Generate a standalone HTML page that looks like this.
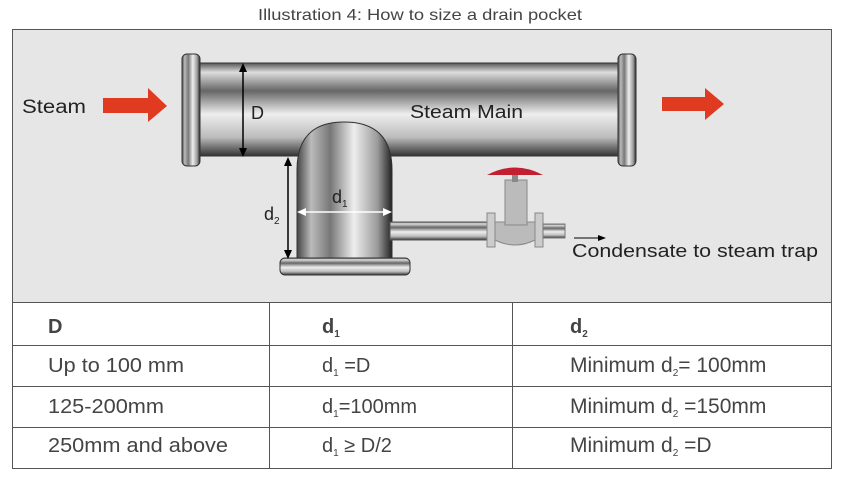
<!DOCTYPE html><html><head><style>body{margin:0;background:#fff;width:842px;height:477px;overflow:hidden;font-family:"Liberation Sans",sans-serif}</style></head><body>
<svg width="842" height="477" viewBox="0 0 842 477" xmlns="http://www.w3.org/2000/svg" font-family="Liberation Sans, sans-serif">
<defs>
<linearGradient id="h" x1="0" y1="0" x2="0" y2="1">
<stop offset="0" stop-color="#555"/><stop offset=".1" stop-color="#ddd"/><stop offset=".3" stop-color="#666"/><stop offset=".55" stop-color="#eee"/><stop offset=".8" stop-color="#bbb"/><stop offset="1" stop-color="#333"/></linearGradient>
<linearGradient id="v" x1="0" y1="0" x2="1" y2="0">
<stop offset="0" stop-color="#444"/><stop offset=".15" stop-color="#bbb"/><stop offset=".35" stop-color="#777"/><stop offset=".6" stop-color="#eee"/><stop offset=".85" stop-color="#999"/><stop offset="1" stop-color="#222"/></linearGradient>
</defs>
<text x="258" y="20" font-size="16" fill="#444" textLength="324" lengthAdjust="spacingAndGlyphs">Illustration 4: How to size a drain pocket</text>
<rect x="12.5" y="29.5" width="819" height="439" fill="#fff" stroke="#555"/>
<rect x="13" y="30" width="818" height="272" fill="#e6e6e6"/>
<line x1="12" y1="302.5" x2="831" y2="302.5" stroke="#555"/>
<line x1="12" y1="345.5" x2="831" y2="345.5" stroke="#555"/>
<line x1="12" y1="386.5" x2="831" y2="386.5" stroke="#555"/>
<line x1="12" y1="427.5" x2="831" y2="427.5" stroke="#555"/>
<line x1="269.5" y1="302" x2="269.5" y2="468" stroke="#555"/>
<line x1="512.5" y1="302" x2="512.5" y2="468" stroke="#555"/>
<g font-size="20" fill="#444">
<text x="48" y="333" font-weight="bold">D</text>
<text x="322" y="333" font-weight="bold">d<tspan font-size="10" dy="4">1</tspan></text>
<text x="570" y="333" font-weight="bold">d<tspan font-size="10" dy="4">2</tspan></text>
<text x="48" y="372" textLength="136" lengthAdjust="spacingAndGlyphs">Up to 100 mm</text>
<text x="322" y="372">d<tspan font-size="10" dy="4">1</tspan><tspan dy="-4"> =D</tspan></text>
<text x="48" y="413" textLength="116" lengthAdjust="spacingAndGlyphs">125-200mm</text>
<text x="322" y="413">d<tspan font-size="10" dy="4">1</tspan><tspan dy="-4">=100mm</tspan></text>
<text x="48" y="452" textLength="180" lengthAdjust="spacingAndGlyphs">250mm and above</text>
<text x="322" y="452">d<tspan font-size="10" dy="4">1</tspan><tspan dy="-4"> ≥ D/2</tspan></text>
</g>
<g font-size="21" fill="#444">
<text x="570" y="372">Minimum d<tspan font-size="10" dy="4">2</tspan><tspan dy="-4">= 100mm</tspan></text>
<text x="570" y="413">Minimum d<tspan font-size="10" dy="4">2</tspan><tspan dy="-4"> =150mm</tspan></text>
<text x="570" y="452">Minimum d<tspan font-size="10" dy="4">2</tspan><tspan dy="-4"> =D</tspan></text>
</g>
<polygon points="103,98 148,98 148,88 167,106 148,122 148,113 103,113" fill="#e03a20"/>
<polygon points="662,97 705,97 705,88 724,104 705,120 705,111 662,111" fill="#e03a20"/>
<text x="22" y="113" font-size="19" fill="#222" textLength="64" lengthAdjust="spacingAndGlyphs">Steam</text>
<rect x="195" y="63" width="428" height="93" fill="url(#h)" stroke="#333"/>
<rect x="182" y="54" width="18" height="112" rx="5" fill="url(#v)" stroke="#333"/>
<rect x="618" y="54" width="18" height="112" rx="5" fill="url(#v)" stroke="#333"/>
<path d="M297,262 L297,170 Q297,122 344,122 Q392,122 392,170 L392,262 Z" fill="url(#v)" stroke="#333"/>
<rect x="390" y="222" width="100" height="18" fill="url(#h)" stroke="#555"/>
<rect x="280" y="258" width="130" height="17" rx="5" fill="url(#h)" stroke="#333"/>
<rect x="487" y="213" width="8" height="34" fill="#ccc" stroke="#888"/>
<rect x="535" y="213" width="8" height="34" fill="#ccc" stroke="#888"/>
<path d="M495,222 L535,222 L535,240 Q515,250 495,240 Z" fill="#bbb" stroke="#888"/>
<rect x="505" y="180" width="22" height="45" fill="#bbb" stroke="#888"/>
<rect x="512" y="172" width="6" height="10" fill="#888"/>
<path d="M487,175 Q515,160 543,175 Z" fill="#c22030"/>
<rect x="543" y="224" width="22" height="14" fill="url(#h)" stroke="#777"/>
<g stroke="#000" stroke-width="1.5">
<line x1="243" y1="68" x2="243" y2="152"/><line x1="288" y1="162" x2="288" y2="255"/>
<line x1="574" y1="238" x2="598" y2="238" stroke-width="1"/></g>
<g fill="#000"><polygon points="243,63 239,72 247,72"/><polygon points="243,157 239,148 247,148"/>
<polygon points="288,157 284,166 292,166"/><polygon points="288,259 284,250 292,250"/>
<polygon points="606,238 598,235 598,241"/></g>
<g stroke="#fff" stroke-width="1.5"><line x1="302" y1="212" x2="387" y2="212"/></g>
<g fill="#fff"><polygon points="297,212 306,208 306,216"/><polygon points="392,212 383,208 383,216"/></g>
<g font-size="18" fill="#222">
<text x="251" y="119">D</text>
<text x="410" y="118" textLength="113" lengthAdjust="spacingAndGlyphs">Steam Main</text>
<text x="332" y="203">d<tspan font-size="10" dy="4">1</tspan></text>
<text x="264" y="220">d<tspan font-size="10" dy="4">2</tspan></text>
<text x="572" y="257" textLength="246" lengthAdjust="spacingAndGlyphs">Condensate to steam trap</text>
</g>
</svg></body></html>
